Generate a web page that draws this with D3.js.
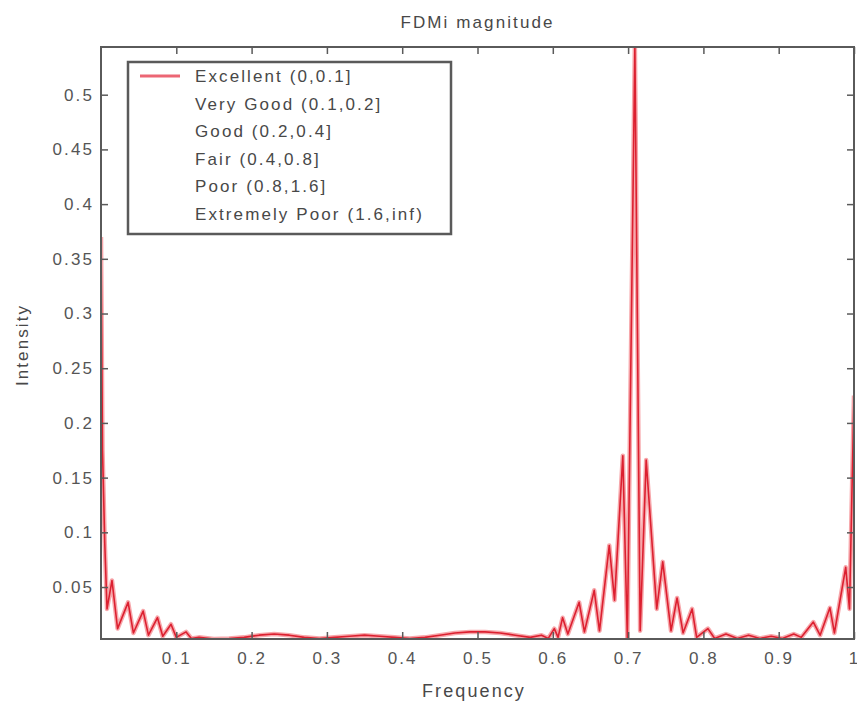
<!DOCTYPE html>
<html>
<head>
<meta charset="utf-8">
<script src="https://cdn.jsdelivr.net/npm/d3@7"></script>
<style>
  html, body { margin: 0; padding: 0; background: #fff; }
  svg { display: block; }
  text { font-family: "Liberation Sans", Arial, sans-serif; fill: #484848; letter-spacing: 2.1px; }
</style>
</head>
<body>
<svg id="chart" width="857" height="704"></svg>
<script>
// ---- data ----
const frequency = [0, 0.002, 0.005, 0.008, 0.0146, 0.022, 0.036, 0.043, 0.056, 0.063, 0.075, 0.082, 0.093, 0.1, 0.113, 0.12, 0.13, 0.15, 0.17, 0.19, 0.21, 0.23, 0.25, 0.27, 0.29, 0.31, 0.33, 0.35, 0.37, 0.39, 0.41, 0.43, 0.45, 0.47, 0.49, 0.51, 0.53, 0.55, 0.57, 0.585, 0.594, 0.602, 0.607, 0.613, 0.62, 0.635, 0.642, 0.655, 0.662, 0.675, 0.682, 0.693, 0.699, 0.709, 0.716, 0.724, 0.738, 0.746, 0.757, 0.765, 0.773, 0.785, 0.791, 0.806, 0.815, 0.83, 0.845, 0.86, 0.875, 0.89, 0.905, 0.92, 0.93, 0.946, 0.955, 0.968, 0.974, 0.989, 0.994, 1.0];
const intensity = [0.37, 0.175, 0.09, 0.03, 0.056, 0.012, 0.036, 0.008, 0.028, 0.006, 0.022, 0.005, 0.016, 0.004, 0.009, 0.003, 0.004, 0.0025, 0.003, 0.004, 0.006, 0.007, 0.006, 0.004, 0.003, 0.004, 0.005, 0.006, 0.005, 0.004, 0.003, 0.004, 0.006, 0.008, 0.009, 0.009, 0.008, 0.006, 0.004, 0.006, 0.003, 0.012, 0.004, 0.022, 0.007, 0.036, 0.009, 0.047, 0.01, 0.088, 0.038, 0.17, 0.003, 0.5436, 0.01, 0.166, 0.03, 0.073, 0.01, 0.04, 0.008, 0.03, 0.004, 0.012, 0.003, 0.007, 0.003, 0.006, 0.003, 0.005, 0.003, 0.007, 0.004, 0.018, 0.006, 0.031, 0.008, 0.068, 0.03, 0.225];
const legendLabels = ["Excellent (0,0.1]", "Very Good (0.1,0.2]", "Good (0.2,0.4]", "Fair (0.4,0.8]", "Poor (0.8,1.6]", "Extremely Poor (1.6,inf)"];
const legendColors = ["#ec6674", "none", "none", "none", "none", "none"];
const xTicks = [0.1, 0.2, 0.3, 0.4, 0.5, 0.6, 0.7, 0.8, 0.9, 1];
const yTicks = [0.05, 0.1, 0.15, 0.2, 0.25, 0.3, 0.35, 0.4, 0.45, 0.5];

// ---- layout ----
const svg = d3.select("#chart");
const mLeft = 101, mTop = 47, pw = 753, ph = 592;
const points = frequency.map((f, i) => ({ f, v: intensity[i] }));

const x = d3.scaleLinear().domain([0, 1]).range([mLeft, mLeft + pw]);
const y = d3.scaleLinear().domain([0.0025, d3.max(intensity)]).range([mTop + ph, mTop]);

const axisColor = "#5a5a5a";
const g = svg.append("g");

g.append("rect").attr("x", mLeft).attr("y", mTop).attr("width", pw).attr("height", ph).attr("fill", "#fff");

svg.append("defs").append("clipPath").attr("id", "clip")
  .append("rect").attr("x", mLeft).attr("y", mTop - 1).attr("width", pw).attr("height", ph + 1);

// data line (pink halo + red core)
const line = d3.line().x(d => x(d.f)).y(d => y(d.v));
g.append("path").datum(points).attr("clip-path", "url(#clip)")
  .attr("d", line).attr("fill", "none").attr("stroke", "#f7a7ab").attr("stroke-width", 4.5).attr("stroke-linejoin", "round");
g.append("path").datum(points).attr("clip-path", "url(#clip)")
  .attr("d", line).attr("fill", "none").attr("stroke", "#dc2030").attr("stroke-width", 1.6).attr("stroke-linejoin", "round");

// axes (MATLAB style: ticks inside, box)
const tickLen = 7;
const fmt = d => String(d);
const bottomAxis = d3.axisBottom(x).tickValues(xTicks).tickSize(-tickLen).tickPadding(13).tickFormat(fmt);
const topAxis = d3.axisTop(x).tickValues(xTicks).tickSize(-tickLen).tickFormat("");
const leftAxis = d3.axisLeft(y).tickValues(yTicks).tickSize(-tickLen).tickPadding(7).tickFormat(fmt);
const rightAxis = d3.axisRight(y).tickValues(yTicks).tickSize(-tickLen).tickFormat("");

function styleAxis(sel) {
  sel.select(".domain").remove();
  sel.selectAll(".tick line").attr("stroke", axisColor).attr("stroke-width", 1.5);
  sel.selectAll(".tick text").style("font-size", "17px").style("fill", "#555")
    .style("font-family", "'Liberation Sans', Arial, sans-serif");
}
g.append("g").attr("transform", `translate(0,${mTop + ph})`).call(bottomAxis).call(styleAxis);
g.append("g").attr("transform", `translate(0,${mTop})`).call(topAxis).call(styleAxis);
g.append("g").attr("transform", `translate(${mLeft},0)`).call(leftAxis).call(styleAxis);
g.append("g").attr("transform", `translate(${mLeft + pw},0)`).call(rightAxis).call(styleAxis);

g.append("rect").attr("x", mLeft).attr("y", mTop).attr("width", pw).attr("height", ph)
  .attr("fill", "none").attr("stroke", axisColor).attr("stroke-width", 2);

// title & axis labels
svg.append("text").attr("x", mLeft + pw / 2).attr("y", 28).attr("text-anchor", "middle")
  .style("font-size", "17px").text("FDMi magnitude");
svg.append("text").attr("x", 474).attr("y", 697).attr("text-anchor", "middle")
  .style("font-size", "18px").text("Frequency");
svg.append("text").attr("transform", `translate(28,345) rotate(-90)`).attr("text-anchor", "middle")
  .style("font-size", "17px").text("Intensity");

// legend
const lg = svg.append("g");
lg.append("rect").attr("x", 128).attr("y", 62).attr("width", 323).attr("height", 172)
  .attr("fill", "#fff").attr("stroke", axisColor).attr("stroke-width", 2.5);
legendLabels.forEach((lab, i) => {
  const yy = 76 + i * 27.6;
  if (legendColors[i] !== "none") {
    lg.append("line").attr("x1", 140).attr("x2", 180).attr("y1", yy).attr("y2", yy)
      .attr("stroke", legendColors[i]).attr("stroke-width", 3);
  }
  lg.append("text").attr("x", 195).attr("y", yy + 6).style("font-size", "17px").text(lab);
});
</script>
</body>
</html>
